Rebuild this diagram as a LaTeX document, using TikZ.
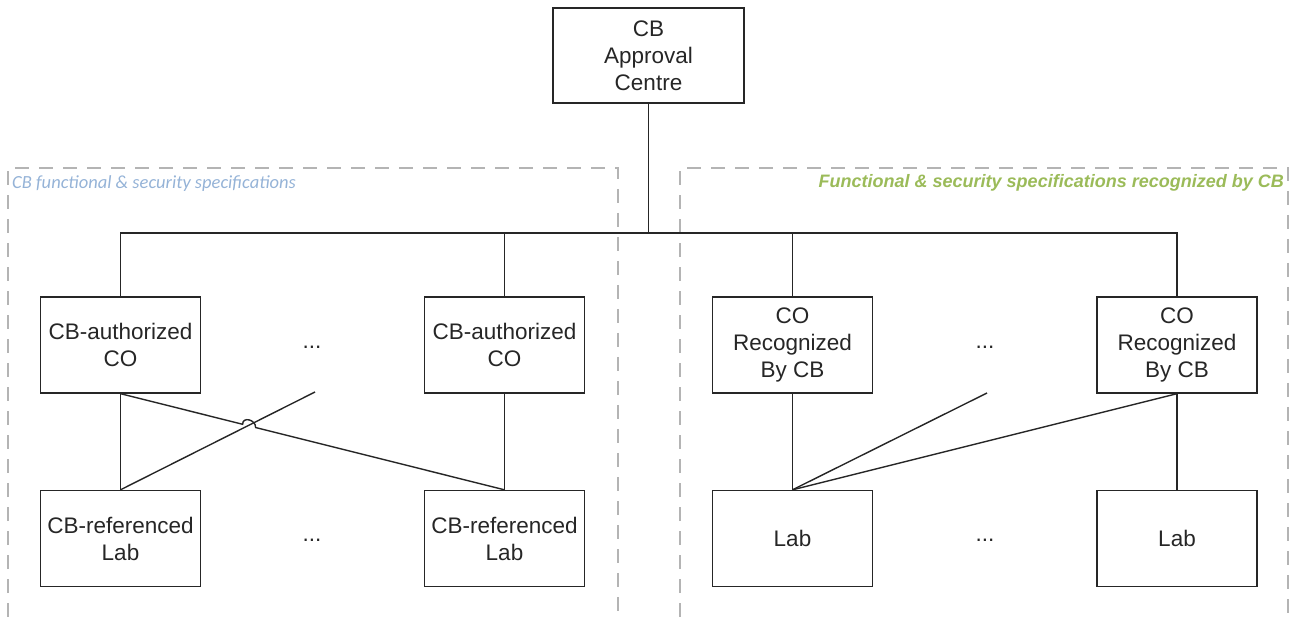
\documentclass[tikz,border=0pt]{standalone}
\usepackage{fontspec}
\setmainfont{Liberation Sans}
\newfontfamily\calib{Carlito}
\usetikzlibrary{calc}
\definecolor{lblblue}{HTML}{95B3D7}
\definecolor{lblgreen}{HTML}{9BBB59}
\definecolor{dashgray}{HTML}{B4B4B4}
\definecolor{txt}{HTML}{262626}
\tikzset{
  box/.style={draw=black!85, line width=1.4pt, rectangle, minimum width=160pt, minimum height=96pt,
    align=center, inner sep=0pt, text=txt, font=\fontsize{22.5}{27}\selectfont},
  conn/.style={draw=black!85, line width=1.4pt},
  region/.style={draw=dashgray, line width=1.5pt, dash pattern=on 14pt off 10pt},
  dots/.style={text=txt, font=\fontsize{22.5}{27}\selectfont, inner sep=0pt},
}
\begin{document}
\begin{tikzpicture}[x=1pt,y=-1pt]
\useasboundingbox (0,0) rectangle (1299,617);
% regions
\draw[region] (8,617) -- (8,168) -- (618,168) -- (618,617);
\draw[region] (680,617) -- (680,168) -- (1288,168) -- (1288,617);
\node[anchor=west, text=lblblue, font=\calib\itshape\fontsize{18.5}{20}\selectfont, inner sep=0pt] (lblL) at (12,184) {CB functional \& security specifications};
\node[anchor=east, text=lblgreen, font=\bfseries\itshape\fontsize{18}{20}\selectfont, inner sep=0pt] (lblR) at (1284,183) {Functional \& security specifications recognized by CB};
% nodes
\node[box, minimum width=191pt, minimum height=95pt] (top) at (648.5,55.5) {CB\\Approval\\Centre};
\node[box] (co1) at (120.5,345) {CB-authorized\\CO};
\node[box] (co2) at (504.5,345) {CB-authorized\\CO};
\node[box] (co3) at (792.5,345) {CO\\Recognized\\By CB};
\node[box] (co4) at (1177,345) {CO\\Recognized\\By CB};
\node[box] (lab1) at (120.5,538.5) {CB-referenced\\Lab};
\node[box] (lab2) at (504.5,538.5) {CB-referenced\\Lab};
\node[box] (lab3) at (792.5,538.5) {Lab};
\node[box] (lab4) at (1177,538.5) {Lab};
\node[dots] (d1) at (312,347) {...};
\node[dots] (d2) at (312,540) {...};
\node[dots] (d3) at (985,347) {...};
\node[dots] (d4) at (985,540) {...};
% tree
\coordinate (bar) at (648.5,233);
\draw[conn] (top.south) -- (bar);
\draw[conn] (co1.north) -- (co1.north |- bar) -- (co4.north |- bar) -- (co4.north);
\draw[conn] (co2.north) -- (co2.north |- bar);
\draw[conn] (co3.north) -- (co3.north |- bar);
% left links
\draw[conn] (co1.south) -- (lab1.north);
\draw[conn] (co2.south) -- (lab2.north);
\coordinate (fL) at (315,392);
\draw[conn] (lab1.north) -- (fL);
\coordinate (h1) at ($(co1.south)!0.318!(lab2.north)$);
\coordinate (h2) at ($(co1.south)!0.352!(lab2.north)$);
\draw[conn] (co1.south) -- (h1) .. controls +(0,-8) and +(0,-8) .. (h2) -- (lab2.north);
% right links
\draw[conn] (co3.south) -- (lab3.north);
\draw[conn] (co4.south) -- (lab4.north);
\coordinate (fR) at (987,393);
\draw[conn] (lab3.north) -- (fR);
\draw[conn] (lab3.north) -- (co4.south);
\end{tikzpicture}
\end{document}
